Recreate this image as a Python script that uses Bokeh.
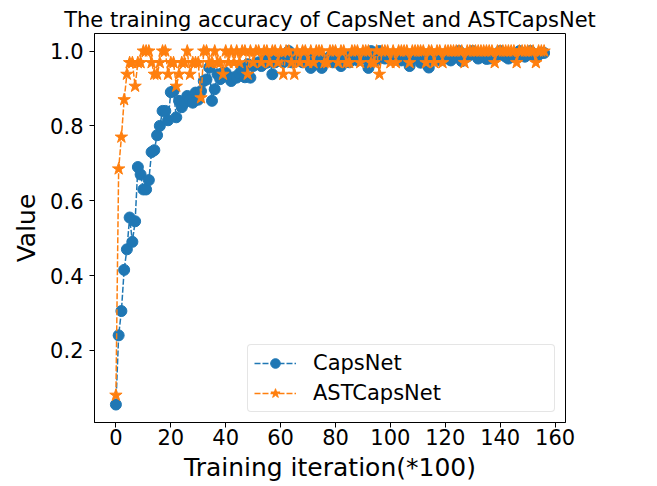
from bokeh.plotting import figure
from bokeh.models import FixedTicker, Range1d, Legend, LegendItem
from bokeh.embed import file_html
from bokeh.resources import INLINE

title_text = "The training accuracy of CapsNet and ASTCapsNet"
x_label = "Training iteration(*100)"
y_label = "Value"
x_ticks = [0, 20, 40, 60, 80, 100, 120, 140, 160]
y_ticks = [0.2, 0.4, 0.6, 0.8, 1.0]

capsnet = [
    0.055, 0.24, 0.305, 0.415, 0.47, 0.555, 0.49, 0.545, 0.69, 0.67,
    0.63, 0.63, 0.655, 0.73, 0.735, 0.775, 0.80, 0.84, 0.84, 0.815,
    0.89, 0.893, 0.823, 0.867, 0.85, 0.862, 0.88, 0.87, 0.862, 0.889,
    0.87, 0.893, 0.92, 0.924, 0.956, 0.867, 0.898, 0.938, 0.925, 0.942,
    0.942, 0.93, 0.92, 0.93, 0.929, 0.94, 0.95, 0.93, 0.965, 0.929,
    0.96, 0.965, 0.97, 0.96, 0.975, 0.969, 0.98, 0.938, 0.97, 0.975,
    0.98, 0.97, 0.985, 1.0, 0.97, 0.98, 0.975, 0.99, 0.97, 0.98,
    0.985, 0.955, 0.97, 0.98, 0.97, 0.955, 0.98, 0.975, 0.985, 0.97,
    0.98, 0.975, 0.96, 0.985, 0.98, 0.97, 0.99, 0.98, 0.975, 0.985,
    0.98, 0.99, 0.955, 1.0, 0.985, 0.975, 1.0, 0.99, 0.98, 0.985,
    0.99, 0.98, 0.99, 0.985, 0.975, 0.99, 0.985, 0.96, 0.98, 0.99,
    0.985, 0.969, 0.98, 0.99, 0.956, 0.985, 0.98, 0.99, 0.975, 0.985,
    0.99, 0.98, 0.975, 0.99, 0.985, 1.0, 0.973, 0.99, 0.985, 0.99,
    1.0, 0.99, 0.98, 0.985, 0.99, 0.979, 0.98, 0.99, 0.985, 0.99,
    1.0, 0.99, 0.985, 0.98, 0.99, 0.985, 0.99, 1.0, 0.99, 0.985,
    0.99, 1.0, 0.99, 0.985, 0.99, 0.995, 0.995,
]

astcapsnet = [
    0.08, 0.685, 0.77, 0.87, 0.938, 0.969, 0.969, 0.906, 0.969, 0.969,
    1.0, 1.0, 1.0, 0.969, 0.938, 0.938, 0.969, 1.0, 1.0, 0.938,
    0.969, 0.969, 0.906, 0.938, 0.969, 0.969, 1.0, 0.938, 0.969, 0.969,
    0.969, 0.875, 1.0, 1.0, 0.969, 0.969, 1.0, 0.969, 0.969, 0.938,
    1.0, 0.969, 1.0, 0.969, 1.0, 0.969, 1.0, 1.0, 0.938, 1.0,
    0.969, 1.0, 1.0, 0.969, 1.0, 1.0, 0.969, 1.0, 1.0, 0.969,
    1.0, 0.938, 1.0, 1.0, 0.969, 0.938, 1.0, 0.969, 1.0, 1.0,
    0.969, 1.0, 0.969, 1.0, 1.0, 1.0, 0.969, 0.969, 1.0, 1.0,
    1.0, 0.969, 1.0, 1.0, 0.969, 0.969, 1.0, 1.0, 1.0, 0.969,
    1.0, 1.0, 1.0, 0.969, 0.969, 1.0, 0.938, 1.0, 1.0, 1.0,
    0.969, 1.0, 0.969, 1.0, 1.0, 1.0, 1.0, 0.969, 1.0, 1.0,
    1.0, 1.0, 1.0, 0.969, 1.0, 1.0, 0.969, 1.0, 1.0, 0.969,
    1.0, 1.0, 1.0, 1.0, 1.0, 1.0, 1.0, 0.969, 1.0, 1.0,
    1.0, 1.0, 1.0, 1.0, 1.0, 1.0, 1.0, 1.0, 0.969, 1.0,
    1.0, 1.0, 1.0, 1.0, 1.0, 1.0, 0.969, 1.0, 1.0, 1.0,
    1.0, 1.0, 1.0, 0.969, 1.0, 1.0, 1.0,
]

iterations = list(range(len(capsnet)))

FONT = "DejaVu Sans"
BLUE = "#1f77b4"
ORANGE = "#ff7f0e"

p = figure(
    width=657, height=484,
    output_backend="svg", toolbar_location=None,
    x_range=Range1d(-7.8, 163.8), y_range=Range1d(0.007, 1.047),
    min_border_left=94, min_border_right=92,
    min_border_top=33, min_border_bottom=62,
    title=title_text,
)
p.title.align = "center"
p.title.text_font = FONT
p.title.text_font_size = "21px"
p.title.text_font_style = "normal"
p.title.text_color = "black"
p.title.standoff = 3

p.xgrid.visible = False
p.ygrid.visible = False
p.outline_line_color = "black"
p.outline_line_width = 1

for ax in (p.xaxis[0], p.yaxis[0]):
    ax.major_tick_out = 5
    ax.major_tick_in = 0
    ax.minor_tick_out = 0
    ax.minor_tick_in = 0
    ax.axis_line_color = "black"
    ax.major_tick_line_color = "black"
    ax.major_label_text_font = FONT
    ax.major_label_text_font_size = "21px"
    ax.major_label_text_color = "black"
    ax.axis_label_text_font = FONT
    ax.axis_label_text_font_size = "25px"
    ax.axis_label_text_font_style = "normal"
    ax.axis_label_text_color = "black"

p.xaxis.ticker = FixedTicker(ticks=x_ticks)
p.yaxis.ticker = FixedTicker(ticks=y_ticks)
p.yaxis.major_label_overrides = {t: f"{t:.1f}" for t in y_ticks}
p.xaxis.axis_label = x_label
p.yaxis.axis_label = y_label
p.xaxis.major_label_standoff = 1
p.xaxis.axis_label_standoff = 5
p.yaxis.major_label_standoff = 6
p.yaxis.axis_label_standoff = 6

l1 = p.line(iterations, capsnet, line_color=BLUE, line_width=1.5, line_dash="6 2")
s1 = p.scatter(iterations, capsnet, marker="circle", size=11,
               fill_color=BLUE, line_color=BLUE)
l2 = p.line(iterations, astcapsnet, line_color=ORANGE, line_width=1.5, line_dash="6 2")
s2 = p.scatter(iterations, astcapsnet, marker="star", size=13,
               fill_color=ORANGE, line_color=ORANGE)

legend = Legend(items=[
    LegendItem(label="CapsNet", renderers=[l1, s1]),
    LegendItem(label="ASTCapsNet", renderers=[l2, s2]),
], location="bottom_right")
legend.margin = 10
legend.padding = 6
legend.spacing = 6
legend.glyph_width = 42
legend.glyph_height = 24
legend.label_height = 24
legend.label_width = 235
legend.label_standoff = 17
legend.label_text_font = FONT
legend.label_text_font_size = "21px"
legend.label_text_color = "black"
legend.border_line_color = "#cccccc"
legend.border_line_width = 1
legend.border_radius = 4
legend.background_fill_color = "white"
legend.background_fill_alpha = 0.8
p.add_layout(legend, "center")

open("out.html", "w").write(file_html(p, INLINE))
